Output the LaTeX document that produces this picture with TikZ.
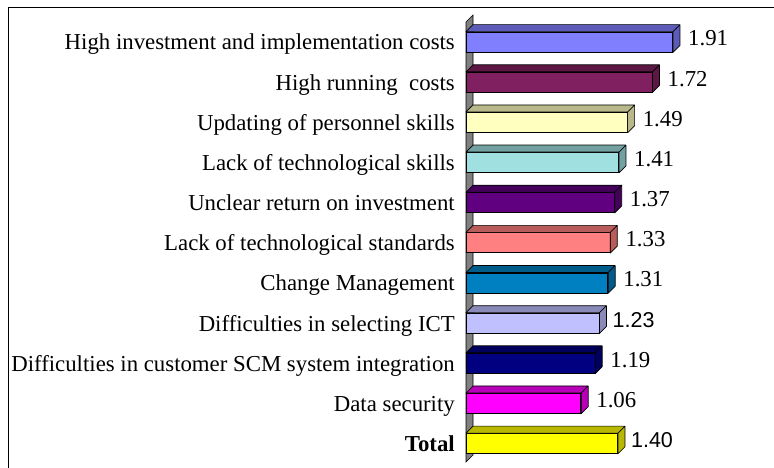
\documentclass[tikz,border=0pt]{standalone}
\usepackage{fontspec}
\setmainfont{Liberation Serif}
\newfontfamily\arialfont{Liberation Sans}
\usepackage{tikz}
\usetikzlibrary{positioning}

\definecolor{invest}{RGB}{128,128,255}
\definecolor{running}{RGB}{128,32,96}
\definecolor{updating}{RGB}{255,255,192}
\definecolor{techskill}{RGB}{160,224,224}
\definecolor{return}{RGB}{96,0,128}
\definecolor{standard}{RGB}{255,128,128}
\definecolor{change}{RGB}{0,128,192}
\definecolor{selectict}{RGB}{192,192,255}
\definecolor{customer}{RGB}{0,0,128}
\definecolor{security}{RGB}{255,0,255}
\definecolor{total}{RGB}{255,255,0}

\begin{document}
\begin{tikzpicture}[
                x=1pt, y=1pt,
                bar/.style={draw, fill=#1, line width=0.7pt, minimum height=20pt, inner sep=0pt, anchor=west},
                side/.style={draw, fill=#1!72!black, line width=0.7pt, line join=round},
                wall/.style={draw, fill=gray, line width=0.6pt},
                lbl/.style={font=\rmfamily\fontsize{22.8}{26}\selectfont, text height=16pt, text depth=5pt, inner sep=0pt, yshift=-2.5pt},
                val/.style={font=\rmfamily\fontsize{22.8}{26}\selectfont, text height=15.5pt, text depth=0pt, inner sep=0pt, yshift=3.75pt},
                frame/.style={line width=1.6pt}]

            \useasboundingbox (0,0) rectangle (774,468);

            % Cadre
            \draw[frame] (8.5,0) -- (8.5,460.5) -- (774,460.5);

            % Axe
            \draw[wall] (466,6) -- (473,13) -- (473,453) -- (466,446) -- cycle;

            % Barres
            \node[bar=invest, minimum width=1.91*108pt] (b1) at (466,426) {};
            \node[bar=running, minimum width=1.72*108pt] (b2) at (466,385.85) {};
            \node[bar=updating, minimum width=1.49*108pt] (b3) at (466,345.7) {};
            \node[bar=techskill, minimum width=1.41*108pt] (b4) at (466,305.55) {};
            \node[bar=return, minimum width=1.37*108pt] (b5) at (466,265.4) {};
            \node[bar=standard, minimum width=1.33*108pt] (b6) at (466,225.25) {};
            \node[bar=change, minimum width=1.31*108pt] (b7) at (466,185.1) {};
            \node[bar=selectict, minimum width=1.23*108pt] (b8) at (466,144.95) {};
            \node[bar=customer, minimum width=1.19*108pt] (b9) at (466,104.8) {};
            \node[bar=security, minimum width=1.06*108pt] (b10) at (466,64.65) {};
            \node[bar=total, minimum width=1.40*108pt] (b11) at (466,24.5) {};

            \foreach \b/\c in {b1/invest, b2/running, b3/updating, b4/techskill, b5/return, b6/standard,
                    b7/change, b8/selectict, b9/customer, b10/security, b11/total}
                \draw[side=\c] (\b.north west) -- ++(7,7) -- ([shift={(7,7)}]\b.north east)
                    -- ([shift={(7,7)}]\b.south east) -- (\b.south east) -- (\b.north east) -- cycle
                    (\b.north east) -- ++(7,7);

            % Libelles
            \node[lbl, left=11pt of b1] (l1) {High investment and implementation costs};
            \node[lbl, left=11pt of b2] (l2) {High running\ \ costs};
            \node[lbl, left=11pt of b3] (l3) {Updating of personnel skills};
            \node[lbl, left=11pt of b4] (l4) {Lack of technological skills};
            \node[lbl, left=11pt of b5] (l5) {Unclear return on investment};
            \node[lbl, left=11pt of b6] (l6) {Lack of technological standards};
            \node[lbl, left=11pt of b7] (l7) {Change Management\ };
            \node[lbl, left=11pt of b8] (l8) {Difficulties in selecting ICT};
            \node[lbl, left=11pt of b9] (l9) {Difficulties in customer SCM system integration};
            \node[lbl, left=11pt of b10] (l10) {Data security\ };
            \node[lbl, left=11pt of b11] (l11) {\textbf{Total}\ };

            % Valeurs
            \node[val, right=15pt of b1] (v1) {1.91};
            \node[val, right=15pt of b2] (v2) {1.72};
            \node[val, right=15pt of b3] (v3) {1.49};
            \node[val, right=15pt of b4] (v4) {1.41};
            \node[val, right=15pt of b5] (v5) {1.37};
            \node[val, right=15pt of b6] (v6) {1.33};
            \node[val, right=15pt of b7] (v7) {1.31};
            \node[val, right=13pt of b8, font=\arialfont\fontsize{21.5}{26}\selectfont] (v8) {1.23};
            \node[val, right=15pt of b9] (v9) {1.19};
            \node[val, right=15pt of b10] (v10) {1.06};
            \node[val, right=13pt of b11, font=\arialfont\fontsize{21.5}{26}\selectfont] (v11) {1.40};

        \end{tikzpicture}
\end{document}
